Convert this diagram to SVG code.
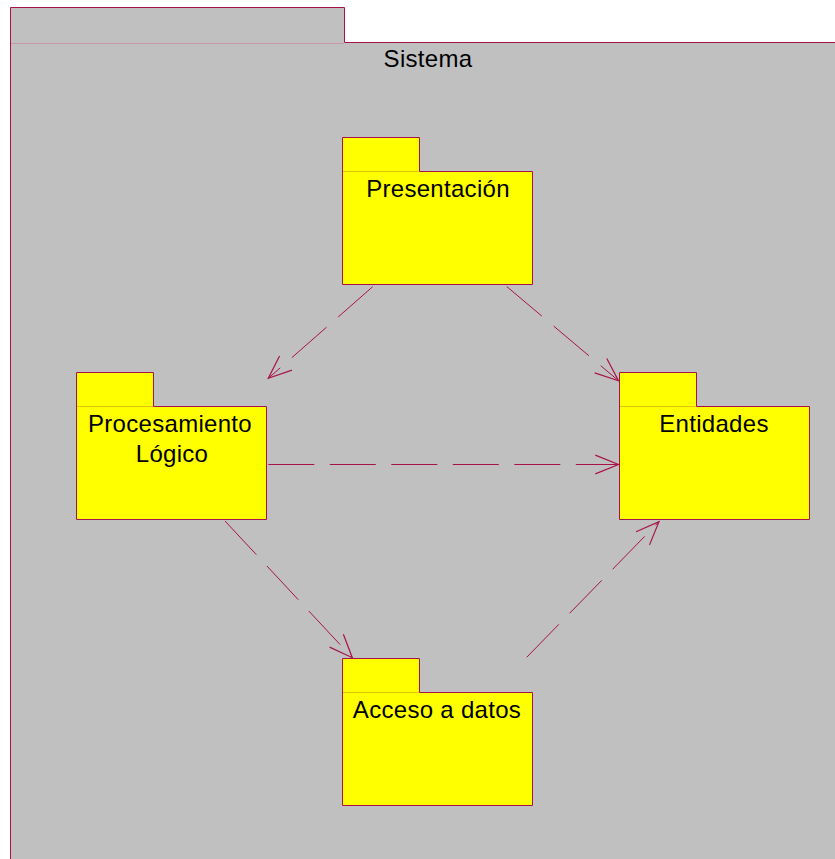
<svg xmlns="http://www.w3.org/2000/svg" width="835" height="859" viewBox="0 0 835 859">
  <style>
    .frame { fill: #C0C0C0; stroke: #A8124A; stroke-width: 1; }
    .frame-sep { stroke: #C49AA8; stroke-width: 1; fill: none; }
    .pkg { fill: #FFFF00; stroke: #A8124A; stroke-width: 1; }
    .pkg-sep { stroke: #E2C20A; stroke-width: 1; fill: none; }
    .label { font-family: "Liberation Sans", Arial, sans-serif; font-size: 24px; fill: #000000; text-anchor: middle; letter-spacing: 0.3px; }
    .dep { fill: none; stroke: #A8124A; stroke-width: 1; stroke-dasharray: 46 15.5; }
  </style>
  <defs>
    <marker id="open-arrow" markerUnits="userSpaceOnUse" markerWidth="30" markerHeight="30" viewBox="-26 -15 30 30" refX="0" refY="0" orient="auto" overflow="visible">
      <path d="M-23.2,-9.4 L0,0 L-23.2,9.4" fill="none" stroke="#A8124A" stroke-width="1.2" stroke-dasharray="none"/>
    </marker>
  </defs>

  <rect x="0" y="0" width="835" height="859" fill="#FFFFFF"/>

  <!-- enclosing package (right and bottom edges run past the canvas) -->
  <g id="sistema">
    <path class="frame" d="M10.5,870 V7.5 H344.5 V42.5 H850 V870 Z"/>
    <line class="frame-sep" x1="11" y1="43.5" x2="344" y2="43.5"/>
    <text class="label" x="428" y="67">Sistema</text>
  </g>

  <!-- packages -->
  <g id="presentacion">
    <path class="pkg" d="M342.5,284.5 V137.5 H419.5 V171.5 H532.5 V284.5 Z"/>
    <line class="pkg-sep" x1="343" y1="171.5" x2="419" y2="171.5"/>
    <text class="label" x="438" y="197">Presentación</text>
  </g>

  <g id="procesamiento-logico">
    <path class="pkg" d="M76.5,519.5 V372.5 H153.5 V406.5 H266.5 V519.5 Z"/>
    <line class="pkg-sep" x1="77" y1="406.5" x2="153" y2="406.5"/>
    <text class="label" x="170" y="432">Procesamiento</text>
    <text class="label" x="172" y="461.5">Lógico</text>
  </g>

  <g id="entidades">
    <path class="pkg" d="M619.5,519.5 V372.5 H696.5 V406.5 H809.5 V519.5 Z"/>
    <line class="pkg-sep" x1="620" y1="406.5" x2="696" y2="406.5"/>
    <text class="label" x="714" y="432">Entidades</text>
  </g>

  <g id="acceso-a-datos">
    <path class="pkg" d="M342.5,805.5 V658.5 H419.5 V692.5 H532.5 V805.5 Z"/>
    <line class="pkg-sep" x1="343" y1="692.5" x2="419" y2="692.5"/>
    <text class="label" x="437" y="718">Acceso a datos</text>
  </g>

  <!-- dependencies -->
  <g id="connectors">
    <line class="dep" x1="372.7" y1="286.7" x2="268.3" y2="378.3" marker-end="url(#open-arrow)"/>
    <line class="dep" x1="506.7" y1="286.5" x2="618.5" y2="380.7" marker-end="url(#open-arrow)"/>
    <line class="dep" x1="268.3" y1="464.5" x2="618.5" y2="464.5" marker-end="url(#open-arrow)"/>
    <line class="dep" x1="225" y1="521" x2="352.3" y2="657.7" marker-end="url(#open-arrow)"/>
    <line class="dep" x1="526.7" y1="657.3" x2="659" y2="521.7" marker-end="url(#open-arrow)"/>
  </g>
</svg>
